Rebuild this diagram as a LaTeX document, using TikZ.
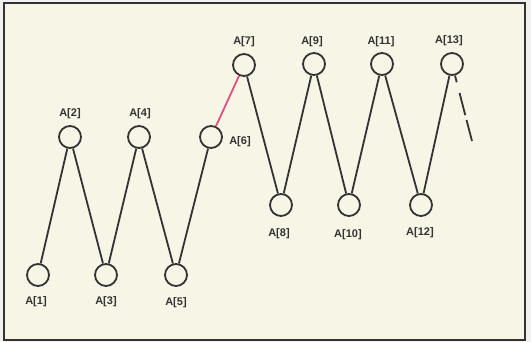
\documentclass[tikz,border=0pt]{standalone}
\usepackage{fontspec}
\setmainfont{Liberation Sans}
\definecolor{paper}{HTML}{F7F5E6}
\definecolor{ink}{HTML}{333333}
\definecolor{rose}{HTML}{E0507F}
\begin{document}
\begin{tikzpicture}[x=1pt,y=-1pt,
  vert/.style={circle,draw=ink,line width=1.8pt,minimum size=22pt,inner sep=0pt,fill=paper},
  tag/.style={font=\bfseries\fontsize{11}{12}\selectfont,text=ink,inner sep=0pt},
  link/.style={draw=ink,line width=1.8pt},
  hot/.style={draw=rose,line width=1.8pt}]
  % page and frame
  \useasboundingbox (0,0) rectangle (531,342);
  \fill[gray!12] (0,0) rectangle (531,342);
  \draw[ink,line width=2.2pt,fill=paper] (4,3) rectangle (525,340);
  % vertices
  \node[vert] (a1)  at (38,275) {};
  \node[vert] (a2)  at (70,137) {};
  \node[vert] (a3)  at (106,275) {};
  \node[vert] (a4)  at (139,137) {};
  \node[vert] (a5)  at (176,275) {};
  \node[vert] (a6)  at (211,137) {};
  \node[vert] (a7)  at (244,65) {};
  \node[vert] (a8)  at (281,205) {};
  \node[vert] (a9)  at (314,64) {};
  \node[vert] (a10) at (349,205) {};
  \node[vert] (a11) at (382,64) {};
  \node[vert] (a12) at (421,205) {};
  \node[vert] (a13) at (452,64) {};
  \coordinate (tail) at (472,141);
  % labels
  \node[tag] (l1)  at (36,302)  {A[1]};
  \node[tag] (l2)  at (70,114)  {A[2]};
  \node[tag] (l3)  at (106,302) {A[3]};
  \node[tag] (l4)  at (140,114) {A[4]};
  \node[tag] (l5)  at (176,303) {A[5]};
  \node[tag] (l6)  at (240,142) {A[6]};
  \node[tag] (l7)  at (244,42)  {A[7]};
  \node[tag] (l8)  at (279,234) {A[8]};
  \node[tag] (l9)  at (312,42)  {A[9]};
  \node[tag] (l10) at (348,235) {A[10]};
  \node[tag] (l11) at (381,42)  {A[11]};
  \node[tag] (l12) at (420,233) {A[12]};
  \node[tag] (l13) at (449,41)  {A[13]};
  % zig-zag chain
  \path[link] (a1) -- (a2) -- (a3) -- (a4) -- (a5) -- (a6);
  \path[hot]  (a6) -- (a7);
  \path[link] (a7) -- (a8) -- (a9) -- (a10) -- (a11) -- (a12) -- (a13);
  \path[link,dash pattern=on 7pt off 11pt on 23pt off 5pt on 30pt] (a13) -- (tail);
\end{tikzpicture}
\end{document}
